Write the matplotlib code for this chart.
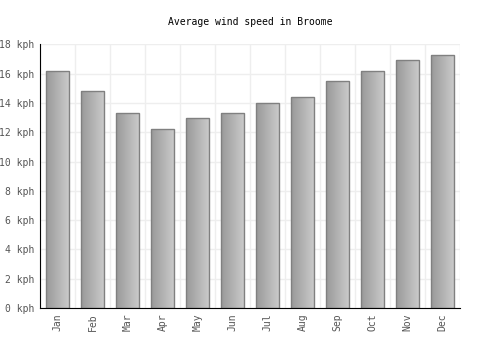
import matplotlib
matplotlib.use("Agg")
import matplotlib.pyplot as plt
import numpy as np

months = ["Jan", "Feb", "Mar", "Apr", "May", "Jun", "Jul", "Aug", "Sep", "Oct", "Nov", "Dec"]
wind_kph = [16.2, 14.8, 13.3, 12.2, 13.0, 13.3, 14.0, 14.4, 15.5, 16.2, 16.9, 17.3]
y_ticks = [0, 2, 4, 6, 8, 10, 12, 14, 16, 18]
y_tick_labels = [f"{v} kph" for v in y_ticks]
title = "Average wind speed in Broome"

plt.rcParams['font.family'] = ['DejaVu Sans Mono']

fig = plt.figure(figsize=(5, 3.5), dpi=100)
ax = fig.add_axes([0.08, 0.12, 0.84, 0.7534])

x = np.arange(len(months))
bars = ax.bar(x, wind_kph, width=0.67, facecolor='none', edgecolor='#808080', linewidth=1.0, zorder=3)

grad = np.linspace(0, 1, 64).reshape(1, -1)
cmap = matplotlib.colors.LinearSegmentedColormap.from_list('g', ['#999999', '#cccccc'])
for b in bars:
    x0, y0 = b.get_x(), b.get_y()
    w, h = b.get_width(), b.get_height()
    im = ax.imshow(grad, extent=[x0, x0 + w, y0, y0 + h], cmap=cmap, aspect='auto', zorder=2)
    im.set_clip_path(b)

ax.set_xlim(-0.5, len(months) - 0.5)
ax.set_ylim(0, 18)
ax.set_yticks(y_ticks)
ax.set_yticklabels(y_tick_labels)
ax.set_xticks(x)
ax.set_xticklabels(months, rotation=90)
ax.tick_params(axis='both', length=0, labelsize=7, colors='#555555', pad=4)

# grid
for yv in y_ticks:
    ax.axhline(yv, color='#eeeeee', linewidth=1, zorder=0)
for xv in np.arange(-0.5, len(months) + 0.5, 1.0):
    ax.axvline(xv, color='#eeeeee', linewidth=1, zorder=0)

for s in ['top', 'right']:
    ax.spines[s].set_visible(False)
ax.spines['left'].set_color('black')
ax.spines['bottom'].set_color('black')
ax.spines['left'].set_zorder(4)
ax.spines['bottom'].set_zorder(4)

fig.text(0.5, 0.937, title, ha='center', va='center', fontsize=7, color='black')

fig.savefig("out.png", dpi=100)
